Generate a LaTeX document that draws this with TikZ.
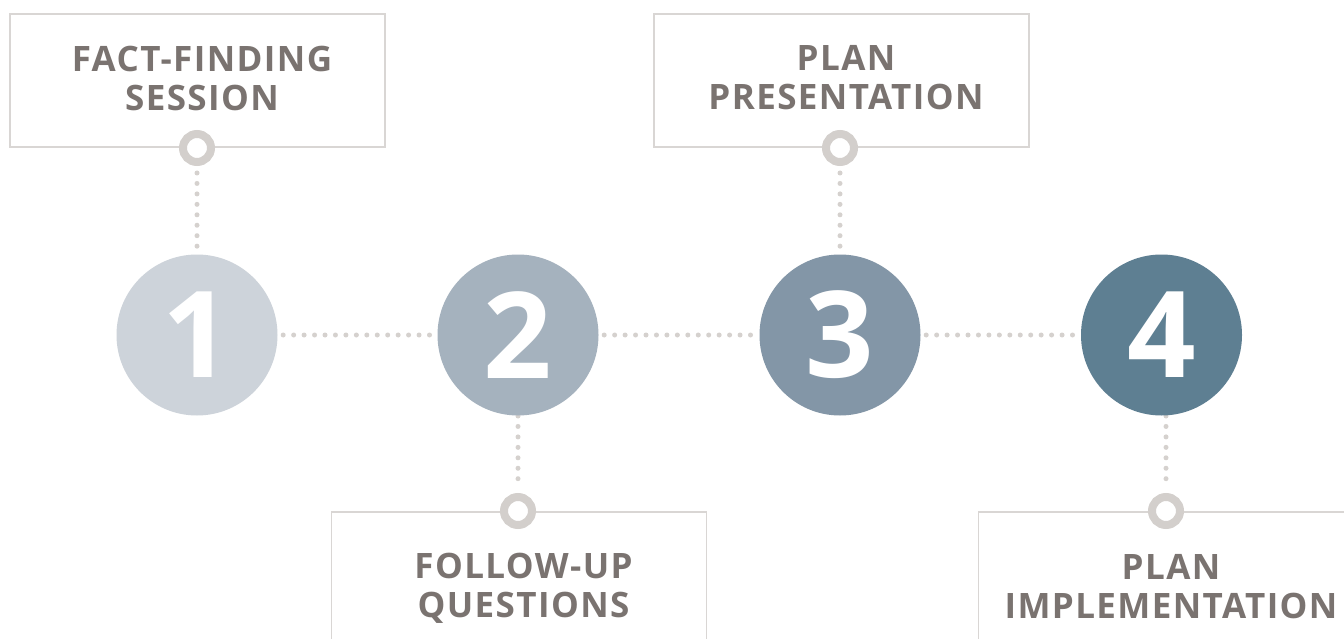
\documentclass[tikz,border=0pt]{standalone}
\usepackage{fontspec}
\setmainfont{Open Sans}
\usetikzlibrary{calc}

\definecolor{stepA}{HTML}{CDD3DA}
\definecolor{stepB}{HTML}{A5B2BE}
\definecolor{stepC}{HTML}{8396A7}
\definecolor{stepD}{HTML}{5E7F92}
\definecolor{labeltext}{HTML}{7A7370}
\definecolor{boxline}{HTML}{D9D6D4}
\definecolor{dotgray}{HTML}{D5D1CE}
\definecolor{ringgray}{HTML}{D3CFCC}

\begin{document}
\begin{tikzpicture}[x=1pt, y=-1pt,
  infobox/.style={draw=boxline, line width=1.4pt, fill=white, outer sep=0pt,
    minimum width=375pt, inner sep=0pt},
  labelline/.style={anchor=base, inner sep=0pt, text=labeltext,
    font=\fontsize{35}{39}\selectfont\bfseries\addfontfeatures{LetterSpace=4}},
  stepdisc/.style={circle, minimum size=161pt, inner sep=0pt, outer sep=0pt,
    text=white, font=\fontsize{120}{120}\selectfont\bfseries},
  ring/.style={circle, draw=ringgray, line width=8pt, fill=white,
    minimum size=28pt, inner sep=0pt, outer sep=0pt},
  dotline/.style={dotgray, line width=5pt, line cap=round,
    dash pattern=on 0pt off 10.45pt}
]
\useasboundingbox (0,0) rectangle (1344,639);
\fill[white] (0,0) rectangle (1344,639);

% label boxes
\node[infobox, minimum height=133pt] (b1) at (197.5,80.5) {};
\node[infobox, minimum height=133pt] (b3) at (841.5,80.5) {};
\node[infobox, minimum height=146pt] (b2) at (519,585) {};
\node[infobox, minimum height=146pt] (b4) at (1166,585) {};

% box labels, two lines each
\node[labelline] (b1a) at ($(b1.north)+(4.5,58)$) {FACT-FINDING};
\node[labelline] (b1b) at ($(b1.north)+(4.5,97)$) {SESSION};
\node[labelline] (b3a) at ($(b3.north)+(4.5,57)$) {PLAN};
\node[labelline] (b3b) at ($(b3.north)+(4.5,96)$) {PRESENTATION};
\node[labelline] (b2a) at ($(b2.north)+(4.5,66)$) {FOLLOW-UP};
\node[labelline] (b2b) at ($(b2.north)+(4.5,105)$) {QUESTIONS};
\node[labelline] (b4a) at ($(b4.north)+(5,67)$) {PLAN};
\node[labelline] (b4b) at ($(b4.north)+(5,106)$) {IMPLEMENTATION};

% step discs (placed first so connectors can refer to them)
\path (197,335) node[stepdisc] (s1) {}
      (518,335) node[stepdisc] (s2) {}
      (840,335) node[stepdisc] (s3) {}
      (1161.5,335) node[stepdisc] (s4) {};

% ring positions on the box edges
\path (197,148) coordinate (r1c)
      (840,148) coordinate (r3c)
      (518,511) coordinate (r2c)
      (1166,511) coordinate (r4c);

% dotted connectors
\draw[dotline] ($(s1.east)+(5.7,0)$) -- ($(s2.west)+(-5,0)$);
\draw[dotline] ($(s2.east)+(5.7,0)$) -- ($(s3.west)+(-5,0)$);
\draw[dotline] ($(s3.east)+(5.7,0)$) -- ($(s4.west)+(-5,0)$);
\draw[dotline] ($(r1c)+(0,25)$) -- ($(s1.north)+(0,-8)$);
\draw[dotline] ($(r3c)+(0,25)$) -- ($(s3.north)+(0,-8)$);
\draw[dotline] ($(s2.south)+(0,0.5)$) -- ($(r2c)+(0,-22)$);
\draw[dotline] ($(r4c |- s4.south)+(0,0.5)$) -- ($(r4c)+(0,-22)$);

% discs with their numbers
\node[stepdisc, fill=stepA] (n1) at (s1) {1};
\node[stepdisc, fill=stepB] (n2) at (s2) {2};
\node[stepdisc, fill=stepC] (n3) at (s3) {3};
\node[stepdisc, fill=stepD] (n4) at (s4) {4};

\node[ring] (r1) at (r1c) {};
\node[ring] (r3) at (r3c) {};
\node[ring] (r2) at (r2c) {};
\node[ring] (r4) at (r4c) {};
\end{tikzpicture}
\end{document}
